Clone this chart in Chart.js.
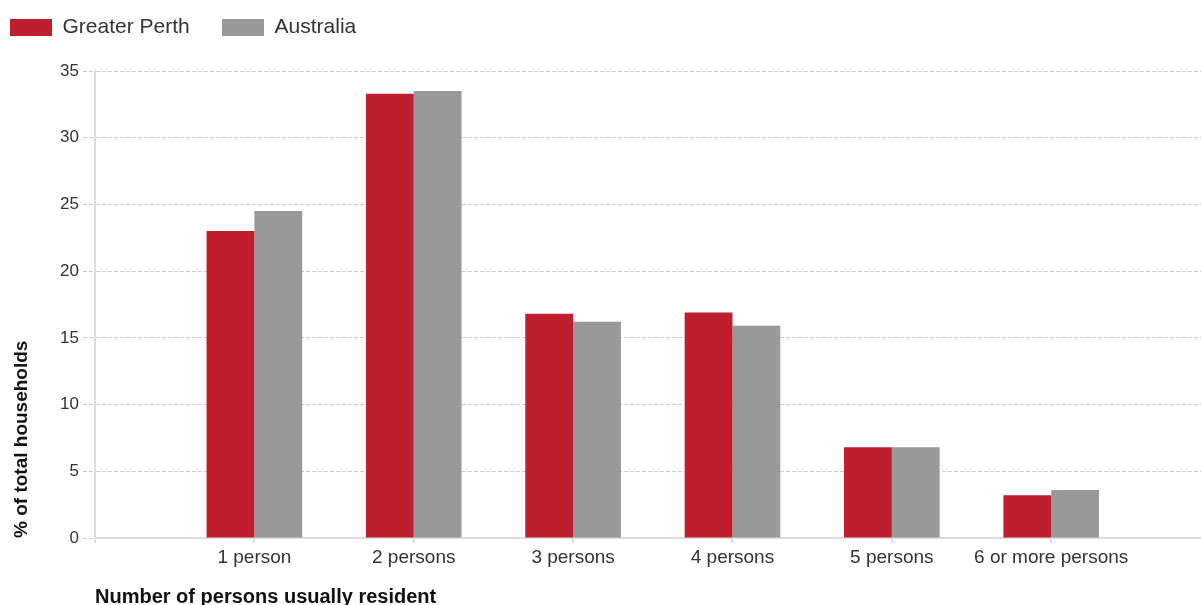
<!DOCTYPE html>
<html>
<head>
<meta charset="utf-8">
<script src="https://cdn.jsdelivr.net/npm/chart.js@4/dist/chart.umd.min.js"></script>
<style>
  html, body { margin: 0; padding: 0; background: #fff; overflow: hidden; }
  canvas { display: block; }
</style>
</head>
<body>
<canvas id="c" width="1201" height="605"></canvas>
<script>
const categories = ['1 person', '2 persons', '3 persons', '4 persons', '5 persons', '6 or more persons'];
const perthValues = [23.0, 33.3, 16.8, 16.9, 6.8, 3.2];
const australiaValues = [24.5, 33.5, 16.2, 15.9, 6.8, 3.6];
const yTicks = [0, 5, 10, 15, 20, 25, 30, 35];

const FONT = "'Liberation Sans', Arial, sans-serif";
const LEGEND_PAD = 32.3;
const PAD_TOP = -15.3;
const PAD_LEFT = 10 - LEGEND_PAD;

const legendHeightPlugin = {
  id: 'legendHeight',
  beforeLayout(chart) {
    const lg = chart.legend;
    if (lg && !lg._fixedFit) {
      const orig = lg.fit.bind(lg);
      lg.fit = function () { orig(); this.height = 71 - PAD_TOP; };
      lg._fixedFit = true;
    }
  }
};

new Chart(document.getElementById('c'), {
  type: 'bar',
  plugins: [legendHeightPlugin],
  data: {
    datasets: [
      {
        label: 'Greater Perth',
        data: perthValues.map((v, i) => ({ x: i + 1, y: v })),
        backgroundColor: '#BE1E2D',
        borderWidth: 0
      },
      {
        label: 'Australia',
        data: australiaValues.map((v, i) => ({ x: i + 1, y: v })),
        backgroundColor: '#999999',
        borderWidth: 0
      }
    ]
  },
  options: {
    responsive: false,
    animation: false,
    devicePixelRatio: 1,
    categoryPercentage: 0.6,
    barPercentage: 1.0,
    layout: { padding: { left: PAD_LEFT, top: PAD_TOP, right: 0, bottom: 0 } },
    plugins: {
      tooltip: { enabled: false },
      legend: {
        position: 'top',
        align: 'start',
        labels: {
          boxWidth: 42,
          boxHeight: 17,
          padding: LEGEND_PAD,
          color: '#333',
          font: { family: FONT, size: 21 }
        }
      }
    },
    scales: {
      x: {
        type: 'linear',
        min: 0,
        max: 6.94,
        offset: false,
        afterFit: s => { s.height = 67; },
        afterBuildTicks: s => { s.ticks = [0].concat(categories.map((_, i) => i + 1)).map(v => ({ value: v })); },
        grid: {
          drawOnChartArea: false,
          drawTicks: true,
          tickLength: 5,
          color: '#dddddd',
          lineWidth: 2,
          offset: false
        },
        border: { display: true, color: '#dddddd', width: 2 },
        ticks: {
          autoSkip: false,
          maxRotation: 0,
          padding: 3,
          color: '#333',
          font: { family: FONT, size: 19 },
          callback: v => (v >= 1 && Number.isInteger(v)) ? categories[v - 1] : ''
        },
        title: {
          display: true,
          text: 'Number of persons usually resident',
          align: 'start',
          color: '#111',
          font: { family: FONT, size: 20, weight: 'bold' },
          padding: { top: 0, bottom: -4 }
        }
      },
      y: {
        min: 0,
        max: 35,
        afterFit: s => { s.width = 95 - PAD_LEFT; },
        afterBuildTicks: s => { s.ticks = yTicks.map(v => ({ value: v })); },
        grid: {
          color: '#cccccc',
          lineWidth: 1,
          tickBorderDash: [4, 2],
          tickLength: 12
        },
        border: { display: true, color: '#dddddd', width: 2, dash: [4, 2] },
        ticks: {
          padding: 4,
          color: '#333',
          font: { family: FONT, size: 17 }
        },
        title: {
          display: true,
          text: '% of total households',
          align: 'start',
          color: '#111',
          font: { family: FONT, size: 19, weight: 'bold' },
          padding: { top: 21.5 - PAD_LEFT - 11.4, bottom: 0 }
        }
      }
    }
  }
});
</script>
</body>
</html>
